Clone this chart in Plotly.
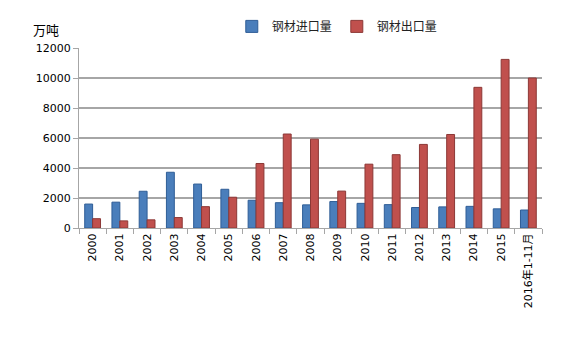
import plotly.graph_objects as go

# Steel imports / exports, unit: 10k tonnes
years = ["2000", "2001", "2002", "2003", "2004", "2005", "2006", "2007", "2008",
         "2009", "2010", "2011", "2012", "2013", "2014", "2015", "2016年1-11月"]
imports = [1596, 1722, 2449, 3717, 2930, 2582, 1851, 1687, 1543,
           1763, 1643, 1558, 1366, 1408, 1443, 1278, 1200]
exports = [621, 474, 545, 696, 1423, 2052, 4301, 6265, 5923,
           2460, 4256, 4888, 5573, 6234, 9378, 11240, 10000]
y_ticks = [0, 2000, 4000, 6000, 8000, 10000, 12000]
y_tick_text = [str(v) for v in y_ticks]

FONT = "DejaVu Sans, Noto Sans CJK SC, sans-serif"
CJK = "Noto Sans CJK SC, sans-serif"

fig = go.Figure()
fig.add_trace(go.Bar(
    x=years, y=imports, name="钢材进口量",
    marker=dict(color="#4a7ebb", line=dict(color="#2f5d96", width=1)),
))
fig.add_trace(go.Bar(
    x=years, y=exports, name="钢材出口量",
    marker=dict(color="#c0504d", line=dict(color="#8c3836", width=1)),
))

fig.update_layout(
    width=576, height=341,
    margin=dict(l=79, r=34, t=48, b=113),
    paper_bgcolor="white", plot_bgcolor="white",
    barmode="group", bargap=0.42, bargroupgap=0.0,
    font=dict(family=FONT, size=11, color="#000000"),
    showlegend=True,
    legend=dict(
        orientation="h", x=0.33, xanchor="left", y=1.12, yanchor="middle",
        font=dict(family=CJK, size=12, color="#222222"),
        itemwidth=30, traceorder="normal",
    ),
    xaxis=dict(
        type="category", tickangle=-90,
        showgrid=False, showline=True, linecolor="#a6a6a6", linewidth=1,
        ticks="outside", ticklen=5, tickcolor="#a6a6a6", tickson="boundaries",
        tickfont=dict(family=FONT, size=11),
    ),
    yaxis=dict(
        range=[0, 12000], tickvals=y_ticks, ticktext=y_tick_text,
        showgrid=True, gridcolor="#a6a6a6", gridwidth=1.5,
        showline=True, linecolor="#a6a6a6", linewidth=1,
        ticks="outside", ticklen=5, tickcolor="#a6a6a6",
        tickfont=dict(family=FONT, size=11), zeroline=False,
    ),
    annotations=[dict(
        text="万吨", xref="paper", yref="paper", x=-0.071, y=1.105,
        xanchor="center", yanchor="middle", showarrow=False,
        font=dict(family=CJK, size=13, color="#000000"),
    )],
)

fig.write_html("out.html")
